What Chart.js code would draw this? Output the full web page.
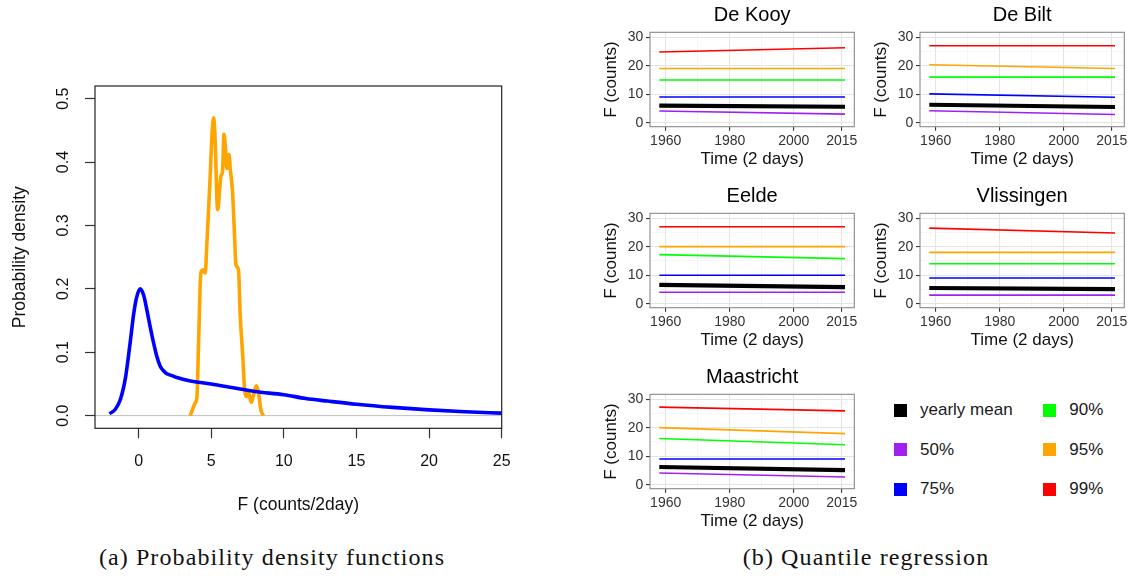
<!DOCTYPE html>
<html>
<head>
<meta charset="utf-8">
<script src="https://cdn.jsdelivr.net/npm/chart.js@4.4.1/dist/chart.umd.min.js"></script>
<style>
  html, body { margin: 0; padding: 0; background: #fff; }
  body { width: 1132px; height: 584px; position: relative; overflow: hidden;
         font-family: 'Liberation Sans', Arial, sans-serif; }
  canvas { position: absolute; }
  .cap { position: absolute; top: 543px; height: 28px; line-height: 28px; text-align: center;
         font-family: 'Liberation Serif', 'Times New Roman', serif; font-size: 24px; letter-spacing: 1.1px;
         color: #111; white-space: nowrap; }
  .key { position: absolute; width: 13px; height: 13px; }
  .keytxt { position: absolute; font-size: 17px; line-height: 20px; color: #1a1a1a; white-space: nowrap; }
</style>
</head>
<body>
<canvas id="pdf" width="560" height="540" style="left:0;top:0"></canvas>
<div class="cap" style="left:72px;width:400px">(a) Probability density functions</div>
<div class="cap" style="left:666px;width:400px">(b) Quantile regression</div>
<div id="legend"></div>
<script>
// ---- (a) density curves ----
const fAll = [-2.0, -1.6, -1.26, -0.9, -0.69, -0.5, -0.34, -0.15, 0.11, 0.35, 0.57, 0.8, 1.03, 1.25, 1.49, 1.75, 1.95, 2.3, 2.64, 3.5, 5, 6.5, 8, 10, 11.5, 13, 15, 17.5, 20, 22.5, 25];
const densAll = [0.003, 0.01, 0.025, 0.06, 0.095, 0.13, 0.16, 0.185, 0.2, 0.19, 0.167, 0.14, 0.115, 0.094, 0.078, 0.07, 0.066, 0.063, 0.06, 0.055, 0.05, 0.044, 0.038, 0.033, 0.027, 0.023, 0.018, 0.013, 0.009, 0.006, 0.004];
const fMean = [3.56, 3.9, 4.02, 4.13, 4.29, 4.43, 4.59, 4.7, 4.82, 4.93, 5.05, 5.16, 5.28, 5.4, 5.46, 5.58, 5.67, 5.78, 5.88, 5.97, 6.08, 6.22, 6.31, 6.47, 6.61, 6.7, 6.88, 7.0, 7.16, 7.3, 7.41, 7.57, 7.76, 7.92, 8.1, 8.26, 8.42, 8.6];
const densMean = [0, 0.02, 0.03, 0.115, 0.225, 0.23, 0.225, 0.27, 0.325, 0.378, 0.441, 0.47, 0.43, 0.336, 0.325, 0.357, 0.378, 0.385, 0.444, 0.425, 0.39, 0.412, 0.39, 0.352, 0.283, 0.238, 0.23, 0.157, 0.099, 0.041, 0.03, 0.036, 0.021, 0.033, 0.047, 0.036, 0.009, 0];
const pdfXTicks = [0, 5, 10, 15, 20, 25];
const pdfYTicks = [0, 0.1, 0.2, 0.3, 0.4, 0.5];

// ---- (b) quantile regression, values at first and last year ----
const years = [1958, 2016];
const stations = ['De Kooy', 'De Bilt', 'Eelde', 'Vlissingen', 'Maastricht'];
const meanLine = [[6.0, 5.6], [6.3, 5.5], [6.6, 5.8], [5.5, 5.1], [6.2, 5.1]];
const q50 = [[4.1, 3.0], [4.2, 2.9], [4.0, 4.0], [3.0, 3.0], [4.1, 2.7]];
const q75 = [[9, 9], [10.1, 8.9], [10, 10], [9, 9], [9, 9]];
const q90 = [[15, 15], [16, 16], [17.2, 15.8], [14, 14], [16.2, 14]];
const q95 = [[19, 19], [20.3, 19.0], [20, 20], [18, 18], [20, 17.9]];
const q99 = [[24.8, 26.3], [27, 27], [27, 27], [26.5, 24.8], [27.2, 25.9]];
const yearTicks = [1960, 1970, 1980, 1990, 2000, 2007.5, 2015];
const yearLabels = [1960, 1980, 2000, 2015];
const countTicks = [0, 5, 10, 15, 20, 25, 30];
const legendLabels = ['yearly mean', '50%', '75%', '90%', '95%', '99%'];

const SANS = "'Liberation Sans', Arial, sans-serif";

// full box around the plotting region
const frame = {
  id: 'frame',
  afterDatasetsDraw(chart, args, opts) {
    const { ctx, chartArea: a } = chart;
    ctx.save();
    ctx.strokeStyle = opts.color;
    ctx.lineWidth = opts.width;
    ctx.strokeRect(a.left, a.top, a.right - a.left, a.bottom - a.top);
    ctx.restore();
  },
};

// grey reference line at density 0
const zeroLine = {
  id: 'zeroLine',
  beforeDatasetsDraw(chart) {
    const { ctx, chartArea: a, scales } = chart;
    const y = scales.y.getPixelForValue(0);
    ctx.save();
    ctx.strokeStyle = '#bebebe';
    ctx.lineWidth = 1;
    ctx.beginPath();
    ctx.moveTo(a.left, y);
    ctx.lineTo(a.right, y);
    ctx.stroke();
    ctx.restore();
  },
};

const pts = (xs, ys) => xs.map((x, i) => ({ x, y: ys[i] }));

// ---- left plot ----
new Chart(document.getElementById('pdf'), {
  type: 'line',
  data: {
    datasets: [
      { data: pts(fAll, densAll), borderColor: '#0000ff', borderWidth: 3.6, pointRadius: 0, cubicInterpolationMode: 'monotone' },
      { data: pts(fMean, densMean), borderColor: '#ffa500', borderWidth: 3.6, pointRadius: 0, cubicInterpolationMode: 'monotone' },
    ],
  },
  plugins: [frame, zeroLine],
  options: {
    responsive: false,
    animation: false,
    devicePixelRatio: 1,
    layout: { padding: { left: 0, right: 58.3, top: 86, bottom: 0 } },
    plugins: {
      legend: { display: false },
      tooltip: { enabled: false },
      frame: { color: '#222', width: 1.2 },
    },
    scales: {
      x: {
        type: 'linear', min: -3, max: 25,
        afterBuildTicks: (s) => { s.ticks = pdfXTicks.map(v => ({ value: v })); },
        afterFit: (s) => { s.height = 111.7; s.paddingLeft = 0; s.paddingRight = 0; },
        grid: { display: true, drawOnChartArea: false, drawTicks: true, tickLength: 10, tickColor: '#333', tickWidth: 1.2 },
        border: { display: false },
        ticks: { color: '#111', font: { family: SANS, size: 16 }, padding: 13.8, autoSkip: false, maxRotation: 0, callback: (v) => String(v) },
        title: { display: true, text: 'F (counts/2day)', color: '#111', font: { family: SANS, size: 17.5 }, padding: { top: 0, bottom: 24.5 } },
      },
      y: {
        type: 'linear', min: -0.02, max: 0.52,
        afterBuildTicks: (s) => { s.ticks = pdfYTicks.map(v => ({ value: v })); },
        afterFit: (s) => { s.width = 95; s.paddingTop = 0; s.paddingBottom = 0; },
        grid: { display: true, drawOnChartArea: false, drawTicks: true, tickLength: 10, tickColor: '#333', tickWidth: 1.2 },
        border: { display: false },
        ticks: { color: '#111', font: { family: SANS, size: 16 }, padding: 10.6, minRotation: 90, maxRotation: 90, crossAlign: 'center', autoSkip: false, callback: (v) => v.toFixed(1) },
        title: { display: true, text: 'Probability density', color: '#111', font: { family: SANS, size: 17.5 }, padding: { top: 9.5, bottom: 0 } },
      },
    },
  },
});

// ---- small quantile panels ----
const seriesOrder = [
  { vals: q99, color: '#ff0000', width: 1.6 },
  { vals: q95, color: '#ffa500', width: 1.6 },
  { vals: q90, color: '#00ff00', width: 1.6 },
  { vals: q75, color: '#0000ff', width: 1.6 },
  { vals: meanLine, color: '#000000', width: 4.2 },
  { vals: q50, color: '#a020f0', width: 1.6 },
];

stations.forEach((name, i) => {
  const col = i % 2, row = Math.floor(i / 2);
  const cv = document.createElement('canvas');
  cv.width = 270; cv.height = 181;
  cv.style.left = (590 + col * 270) + 'px';
  cv.style.top = (row * 181) + 'px';
  document.body.appendChild(cv);

  const isMajorYear = (v) => yearLabels.includes(v);
  new Chart(cv, {
    type: 'line',
    data: {
      datasets: seriesOrder.map(s => ({
        data: pts(years, s.vals[i]),
        borderColor: s.color, borderWidth: s.width, pointRadius: 0, tension: 0,
      })),
    },
    plugins: [frame],
    options: {
      responsive: false,
      animation: false,
      devicePixelRatio: 1,
      layout: { padding: { left: 0, right: 5.7, top: 0, bottom: 0 } },
      plugins: {
        legend: { display: false },
        tooltip: { enabled: false },
        frame: { color: '#8a8a8a', width: 1.1 },
        title: { display: true, fullSize: false, text: name, color: '#000', font: { family: SANS, size: 20, weight: 'normal' }, padding: { top: 3, bottom: 5.3 } },
      },
      scales: {
        x: {
          type: 'linear', min: 1955.1, max: 2018.9,
          afterBuildTicks: (s) => { s.ticks = yearTicks.map(v => ({ value: v })); },
          afterFit: (s) => { s.height = 54.3; s.paddingLeft = 0; s.paddingRight = 0; },
          grid: {
            drawTicks: true, tickLength: 4,
            color: (c) => isMajorYear(c.tick.value) ? '#e4e4e4' : '#f0f0f0',
            lineWidth: (c) => isMajorYear(c.tick.value) ? 1.1 : 0.6,
            tickColor: (c) => isMajorYear(c.tick.value) ? '#333' : 'rgba(0,0,0,0)',
          },
          border: { display: false },
          ticks: { color: '#333', font: { family: SANS, size: 14 }, padding: 2, autoSkip: false, maxRotation: 0,
                   callback: (v) => isMajorYear(v) ? String(v) : '' },
          title: { display: true, text: 'Time (2 days)', color: '#111', font: { family: SANS, size: 17 }, padding: { top: 0, bottom: 11.5 } },
        },
        y: {
          type: 'linear', min: -1.4, max: 31.7,
          afterBuildTicks: (s) => { s.ticks = countTicks.map(v => ({ value: v })); },
          afterFit: (s) => { s.width = 60; s.paddingTop = 0; s.paddingBottom = 0; },
          grid: {
            drawTicks: true, tickLength: 4,
            color: (c) => c.tick.value % 10 === 0 ? '#e4e4e4' : '#f0f0f0',
            lineWidth: (c) => c.tick.value % 10 === 0 ? 1.1 : 0.6,
            tickColor: (c) => c.tick.value % 10 === 0 ? '#333' : 'rgba(0,0,0,0)',
          },
          border: { display: false },
          ticks: { color: '#333', font: { family: SANS, size: 14 }, padding: 2.7, autoSkip: false,
                   callback: (v) => v % 10 === 0 ? String(v) : '' },
          title: { display: true, text: 'F (counts)', color: '#111', font: { family: SANS, size: 17 }, padding: { top: 11.5, bottom: 0 } },
        },
      },
    },
  });
});

// ---- legend ----
const legendBox = document.getElementById('legend');
const legendSeries = [meanLine, q50, q75, q90, q95, q99];
legendLabels.forEach((lab, k) => {
  const col = Math.floor(k / 3), row = k % 3;
  const x = col === 0 ? 894 : 1043.3;
  const cy = [410, 449.5, 489][row];
  const sq = document.createElement('div');
  sq.className = 'key';
  sq.style.left = x + 'px';
  sq.style.top = (cy - 6.5) + 'px';
  sq.style.background = seriesOrder.find(s => s.vals === legendSeries[k]).color;
  legendBox.appendChild(sq);
  const tx = document.createElement('div');
  tx.className = 'keytxt';
  tx.style.left = (x + 26) + 'px';
  tx.style.top = (cy - 10) + 'px';
  tx.textContent = lab;
  legendBox.appendChild(tx);
});
</script>
</body>
</html>
